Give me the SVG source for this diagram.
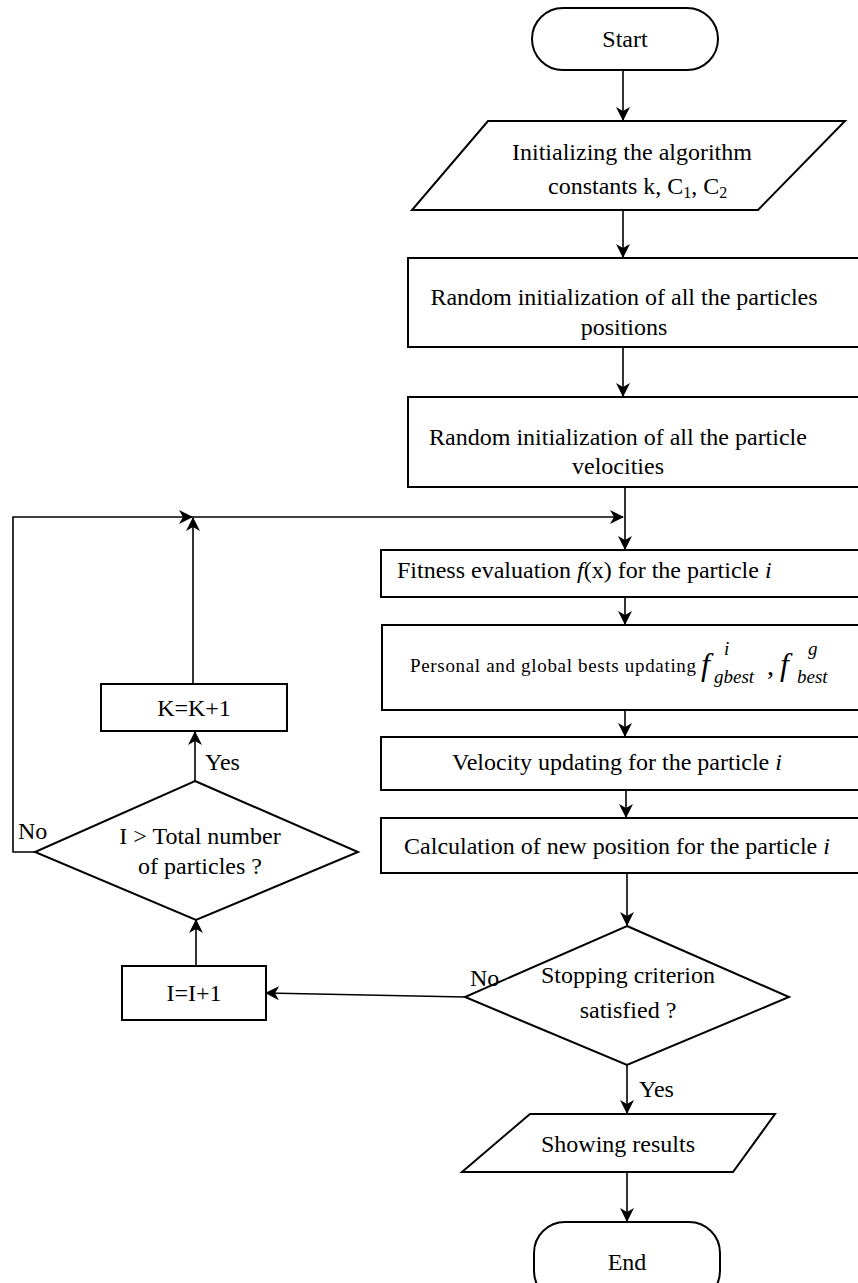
<svg xmlns="http://www.w3.org/2000/svg" width="858" height="1283" viewBox="0 0 858 1283" font-family="'Liberation Serif', 'Times New Roman', Tinos, 'DejaVu Serif', serif">
<style>
.s{fill:#fff;stroke:#000;stroke-width:2}
text{font-family:'Liberation Serif','Times New Roman',Tinos,'DejaVu Serif',serif;font-size:24px;fill:#000}
.m{text-anchor:middle}
.i{font-style:italic}
.c{fill:none;stroke:#000;stroke-width:1.6}
</style>
<defs>
<marker id="a" markerWidth="14" markerHeight="14" refX="13" refY="7" orient="auto" markerUnits="userSpaceOnUse">
<path d="M0,0 L14,7 L0,14 L4,7 z" fill="#000"/>
</marker>
</defs>
<rect width="858" height="1283" fill="#fff"/>
<g id="connectors">
<line class="c" x1="623" y1="70" x2="623" y2="120" marker-end="url(#a)"/>
<line class="c" x1="623" y1="210" x2="623" y2="257" marker-end="url(#a)"/>
<line class="c" x1="623" y1="347" x2="623" y2="396" marker-end="url(#a)"/>
<line class="c" x1="625" y1="487" x2="625" y2="549" marker-end="url(#a)"/>
<line class="c" x1="625" y1="597" x2="625" y2="624" marker-end="url(#a)"/>
<line class="c" x1="625" y1="710" x2="625" y2="736" marker-end="url(#a)"/>
<line class="c" x1="626" y1="790" x2="626" y2="817" marker-end="url(#a)"/>
<line class="c" x1="627" y1="873" x2="627" y2="925" marker-end="url(#a)"/>
<line class="c" x1="627" y1="1065" x2="627" y2="1113" marker-end="url(#a)"/>
<line class="c" x1="627" y1="1172" x2="627" y2="1221" marker-end="url(#a)"/>
<line class="c" x1="465" y1="997" x2="266" y2="993" marker-end="url(#a)"/>
<line class="c" x1="196" y1="966" x2="196" y2="920" marker-end="url(#a)"/>
<line class="c" x1="195" y1="781" x2="195" y2="732" marker-end="url(#a)"/>
<line class="c" x1="193" y1="684" x2="193" y2="518" marker-end="url(#a)"/>
<polyline class="c" points="35,852 13,852 13,517 192,517" marker-end="url(#a)"/>
<line class="c" x1="192" y1="517" x2="623" y2="517" marker-end="url(#a)"/>
</g>
<g id="start">
<rect class="s" x="532" y="8" width="186" height="62" rx="31"/>
<text class="m" x="625" y="47">Start</text>
</g>
<g id="init-constants">
<polygon class="s" points="488,121 845,121 758,210 412,210"/>
<text class="m" x="632" y="160">Initializing the algorithm</text>
<text x="548" y="194">constants k, C<tspan style="font-size:16px" dy="4">1</tspan><tspan dy="-4">, C</tspan><tspan style="font-size:16px" dy="4">2</tspan></text>
</g>
<g id="init-positions">
<rect class="s" x="408" y="258" width="470" height="89"/>
<text class="m" x="624" y="305">Random initialization of all the particles</text>
<text class="m" x="624" y="335">positions</text>
</g>
<g id="init-velocities">
<rect class="s" x="408" y="397" width="470" height="90"/>
<text class="m" x="618" y="445">Random initialization of all the particle</text>
<text class="m" x="618" y="474">velocities</text>
</g>
<g id="fitness">
<rect class="s" x="381" y="550" width="497" height="47"/>
<text x="397" y="578">Fitness evaluation <tspan class="i">f</tspan>(x) for the particle <tspan class="i">i</tspan></text>
</g>
<g id="bests">
<rect class="s" x="382" y="625" width="496" height="85"/>
<text x="410" y="672" style="font-size:19px" textLength="286" lengthAdjust="spacing">Personal and global bests updating</text>
<text class="i" x="701" y="675" style="font-size:32px">f</text>
<text class="i" x="724" y="655" style="font-size:19px">i</text>
<text class="i" x="714" y="683" style="font-size:19px">gbest</text>
<text x="767" y="675" style="font-size:28px">,</text>
<text class="i" x="780" y="675" style="font-size:32px">f</text>
<text class="i" x="808" y="655" style="font-size:19px">g</text>
<text class="i" x="797" y="683" style="font-size:19px">best</text>
</g>
<g id="velocity">
<rect class="s" x="381" y="737" width="497" height="53"/>
<text class="m" x="617" y="770">Velocity updating for the particle <tspan class="i">i</tspan></text>
</g>
<g id="position">
<rect class="s" x="381" y="818" width="497" height="55"/>
<text class="m" x="617" y="854">Calculation of new position for the particle <tspan class="i">i</tspan></text>
</g>
<g id="stopping">
<polygon class="s" points="627,926 789,997 627,1065 465,997"/>
<text class="m" x="628" y="983">Stopping criterion</text>
<text class="m" x="628" y="1018">satisfied ?</text>
<text x="470" y="986">No</text>
<text x="639" y="1097">Yes</text>
</g>
<g id="showing">
<polygon class="s" points="530,1114 775,1114 733,1172 462,1172"/>
<text class="m" x="618" y="1152">Showing results</text>
</g>
<g id="end">
<rect class="s" x="534" y="1222" width="186" height="80" rx="31"/>
<text class="m" x="627" y="1270">End</text>
</g>
<g id="inc-i">
<rect class="s" x="122" y="966" width="144" height="54"/>
<text class="m" x="194" y="1001">I=I+1</text>
</g>
<g id="check-total">
<polygon class="s" points="195,781 358,852 196,920 35,852"/>
<text class="m" x="200" y="844">I &gt; Total number</text>
<text class="m" x="200" y="874">of particles ?</text>
<text x="205" y="770">Yes</text>
<text x="18" y="839">No</text>
</g>
<g id="inc-k">
<rect class="s" x="101" y="684" width="186" height="47"/>
<text class="m" x="194" y="716">K=K+1</text>
</g>
</svg>
